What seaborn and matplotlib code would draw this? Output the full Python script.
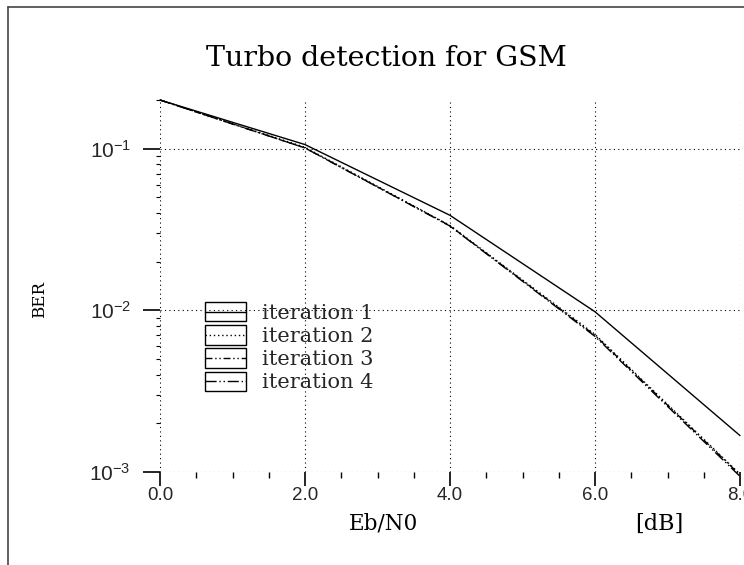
import matplotlib
matplotlib.use("Agg")
import matplotlib.pyplot as plt
import seaborn as sns
import pandas as pd
import numpy as np
from matplotlib.lines import Line2D
from matplotlib.patches import Rectangle
from matplotlib.legend_handler import HandlerLine2D
from matplotlib.ticker import LogLocator, MultipleLocator, FixedLocator

# ---- data ----
ebn0 = [0.0, 2.0, 4.0, 6.0, 8.0]
iter1 = [0.200, 0.106, 0.0387, 0.0098, 0.00168]
iter2 = [0.200, 0.102, 0.0335, 0.0071, 0.00097]
iter3 = [0.200, 0.101, 0.0333, 0.0070, 0.00096]
iter4 = [0.200, 0.101, 0.0332, 0.0069, 0.00094]
labels = ["iteration 1", "iteration 2", "iteration 3", "iteration 4"]
title = "Turbo detection for GSM"
xticks = [0.0, 2.0, 4.0, 6.0, 8.0]

sns.set_theme(style="white")
plt.rcParams["font.family"] = ["DejaVu Serif", "DejaVu Sans"]
plt.rcParams["mathtext.fontset"] = "custom"
plt.rcParams["mathtext.rm"] = "Liberation Sans"
plt.rcParams["mathtext.it"] = "Liberation Sans"
plt.rcParams["mathtext.bf"] = "Liberation Sans:bold"

rows = []
for lab, vals in zip(labels, [iter1, iter2, iter3, iter4]):
    for x, y in zip(ebn0, vals):
        rows.append({"Eb/N0": x, "BER": y, "iteration": lab})
df = pd.DataFrame(rows)

dashes = {
    "iteration 1": "",
    "iteration 2": (1, 2),
    "iteration 3": (5, 2, 1, 2, 1, 2),
    "iteration 4": (8, 2, 1, 2, 1, 2),
}

fig = plt.figure(figsize=(7.44, 5.65), dpi=100)
ax = fig.add_axes([160 / 744, 1 - 472 / 565, 580 / 744, 372 / 565])
sns.lineplot(data=df, x="Eb/N0", y="BER", style="iteration", dashes=dashes,
             color="black", linewidth=1.0, ax=ax, legend=False, clip_on=False)

ax.set_yscale("log")
ax.set_xlim(0, 8)
ax.set_ylim(1e-3, 0.2)

for s in ax.spines.values():
    s.set_visible(False)

ax.xaxis.set_major_locator(FixedLocator(xticks))
ax.set_xticklabels([f"{v:.1f}" for v in xticks], fontfamily="Liberation Sans", fontsize=13.5)
ax.xaxis.set_minor_locator(MultipleLocator(0.5))
ax.yaxis.set_major_locator(LogLocator(base=10, numticks=10))
ax.yaxis.set_minor_locator(LogLocator(base=10, subs=np.arange(2, 10) * 1.0, numticks=10))
ax.tick_params(axis="x", which="major", direction="out", length=10, width=1.2, color="black", pad=0.5)
ax.tick_params(axis="x", which="minor", direction="out", length=4, width=1.0, color="black")
ax.tick_params(axis="y", which="major", direction="out", length=12, width=1.2, color="black", pad=9,
               labelsize=15, labelfontfamily="Liberation Sans")
ax.tick_params(axis="y", which="minor", direction="out", length=3, width=0.8, color="black")
ax.tick_params(left=True, bottom=True, which="both")

ax.grid(True, which="major", linestyle=(0, (1, 3)), color="black", linewidth=0.8)
ax.set_axisbelow(True)

ax.set_xlabel("")
ax.set_ylabel("")
fig.text(384 / 744, 1 - 524 / 565, "Eb/N0", ha="center", va="center", fontsize=15.5, color="black")
fig.text(659 / 744, 1 - 524 / 565, "[dB]", ha="center", va="center", fontsize=16, color="black")
fig.text(40 / 744, 1 - 300 / 565, "BER", ha="center", va="center", rotation=90, fontsize=12, color="black")
fig.text(386 / 744, 1 - 58 / 565, title, ha="center", va="center", fontsize=20.5, color="black")

# frame lines around the figure (left and top)
fig.add_artist(Line2D([8 / 744, 8 / 744], [0, 1 - 7 / 565], transform=fig.transFigure, color="#444444", lw=1.2))
fig.add_artist(Line2D([8 / 744, 1], [1 - 7 / 565, 1 - 7 / 565], transform=fig.transFigure, color="#444444", lw=1.2))


class BoxLine(HandlerLine2D):
    def create_artists(self, legend, orig_handle, xdescent, ydescent, width, height, fontsize, trans):
        arts = super().create_artists(legend, orig_handle, xdescent, ydescent, width, height, fontsize, trans)
        rect = Rectangle((-xdescent, -ydescent - 0.15 * height), width, height * 1.3, fill=False,
                         edgecolor="black", linewidth=1.0, transform=trans)
        return [rect] + arts


handles = [Line2D([], [], color="black", lw=1.0, linestyle=(0, dashes[l]) if dashes[l] else "-") for l in labels]
leg = fig.legend(handles, labels, loc="upper left", bbox_to_anchor=(205 / 744, 1 - 304 / 565),
                 frameon=False, fontsize=15, handlelength=1.95, handleheight=0.72, handletextpad=0.8,
                 labelspacing=0.2, borderpad=0, borderaxespad=0,
                 handler_map={Line2D: BoxLine()})

fig.savefig("out.png", dpi=100)
